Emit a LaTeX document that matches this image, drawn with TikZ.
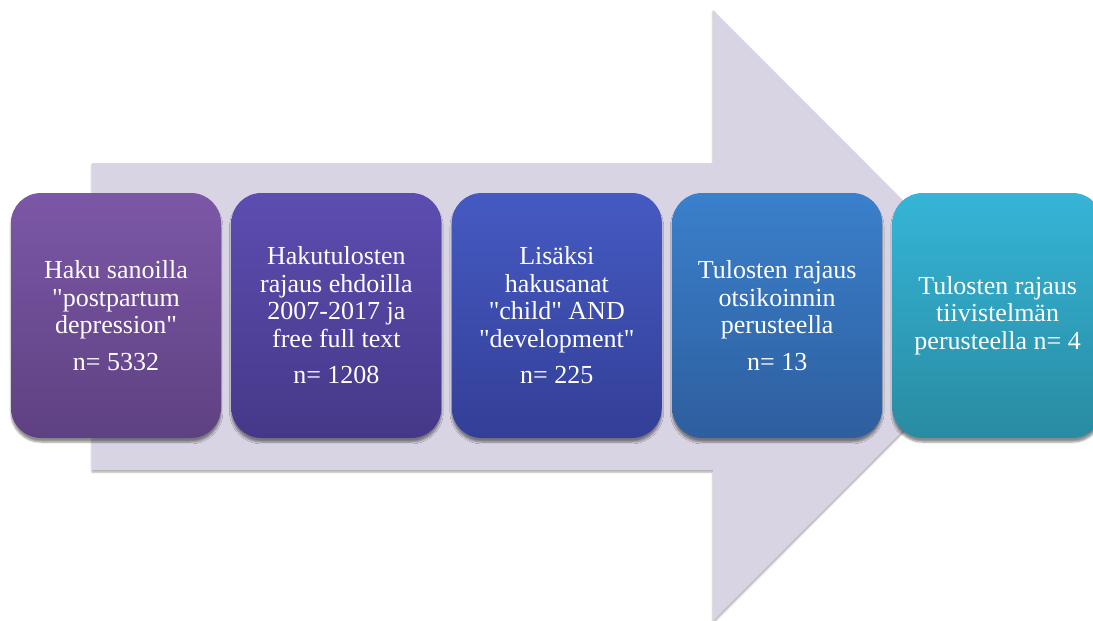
\documentclass[tikz,border=0pt]{standalone}
\usepackage{fontspec}
\setmainfont{Liberation Serif}[Ligatures=TeXOff]
\usepackage{tikz}
\usetikzlibrary{positioning,shadows.blur}

\definecolor{arrowfill}{HTML}{D8D4E3}
\definecolor{boxAtop}{HTML}{7C57A6}\definecolor{boxAbot}{HTML}{5E4182}
\definecolor{boxBtop}{HTML}{5C4DB1}\definecolor{boxBbot}{HTML}{463888}
\definecolor{boxCtop}{HTML}{455AC2}\definecolor{boxCbot}{HTML}{333F97}
\definecolor{boxDtop}{HTML}{3A80CC}\definecolor{boxDbot}{HTML}{2E5E9E}
\definecolor{boxEtop}{HTML}{35B5D7}\definecolor{boxEbot}{HTML}{298BA2}

\begin{document}
\begin{tikzpicture}[x=1pt, y=-1pt,
    stepbox/.style={rounded corners=30pt, minimum width=210pt, minimum height=245pt,
      inner sep=4pt, align=center, text=white,
      font=\fontsize{26}{27.5}\selectfont,
      blur shadow={shadow xshift=0pt, shadow yshift=-4pt, shadow blur steps=6, shadow opacity=45}},
    shade2/.style 2 args={top color=#1, bottom color=#2}]
    \useasboundingbox (0,0) rectangle (1093,621);
    \clip (0,0) rectangle (1093,621);

    % big arrow in the background
    \fill[arrowfill, blur shadow={shadow xshift=0pt, shadow yshift=-2pt, shadow blur steps=4, shadow opacity=35}]
      (92,163) -- (713,163) -- (713,10) -- (1018,315.5) -- (713,621)
      -- (713,470) -- (92,470) -- cycle;

    \node[stepbox, shade2={boxAtop}{boxAbot}] (haku) at (116,315.5)
      {Haku sanoilla\\ "postpartum\\ depression"\\[9pt] n= 5332};
    \node[stepbox, shade2={boxBtop}{boxBbot}, right=10pt of haku] (rajaus)
      {Hakutulosten\\ rajaus ehdoilla\\ 2007-2017 ja\\ free full text\\[9pt] n= 1208};
    \node[stepbox, shade2={boxCtop}{boxCbot}, right=10pt of rajaus] (lisa)
      {Lisäksi\\ hakusanat\\ "child" AND\\ "development"\\[9pt] n= 225};
    \node[stepbox, shade2={boxDtop}{boxDbot}, right=10pt of lisa] (otsikko)
      {Tulosten rajaus\\ otsikoinnin\\ perusteella\\[9pt] n= 13};
    \node[stepbox, shade2={boxEtop}{boxEbot}, right=10pt of otsikko] (tiivis)
      {Tulosten rajaus\\ tiivistelmän\\ perusteella n= 4};
  \end{tikzpicture}
\end{document}
